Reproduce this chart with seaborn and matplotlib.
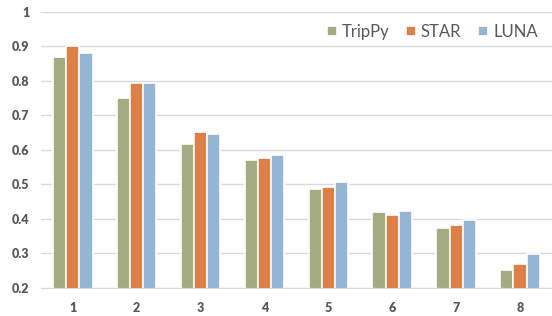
import pandas as pd
import seaborn as sns
import matplotlib.pyplot as plt

groups = ["1", "2", "3", "4", "5", "6", "7", "8"]
models = ["TripPy", "STAR", "LUNA"]
trippy = [0.870, 0.750, 0.618, 0.572, 0.488, 0.421, 0.373, 0.252]
star = [0.901, 0.793, 0.652, 0.578, 0.493, 0.410, 0.381, 0.270]
luna = [0.880, 0.793, 0.647, 0.586, 0.507, 0.424, 0.397, 0.298]
colors = ["#A5AB80", "#E07F45", "#93B6D5"]

rows = []
for name, vals in zip(models, [trippy, star, luna]):
    for g, v in zip(groups, vals):
        rows.append({"group": g, "model": name, "value": v})
df = pd.DataFrame(rows)

sns.set_style("white")
plt.rcParams['font.family'] = ['Lato', 'DejaVu Sans']

fig = plt.figure(figsize=(5.52, 3.16), dpi=100)
ax = fig.add_axes([0.074, 0.089, 0.926, 0.873])

sns.barplot(data=df, x="group", y="value", hue="model", hue_order=models,
            palette=colors, width=0.62, edgecolor="white", linewidth=1.2,
            saturation=1, ax=ax)

ax.set_ylim(0.2, 1.0)
ax.set_yticks([0.2, 0.3, 0.4, 0.5, 0.6, 0.7, 0.8, 0.9, 1.0])
ax.set_yticklabels(["0.2", "0.3", "0.4", "0.5", "0.6", "0.7", "0.8", "0.9", "1"])
ax.set_xlim(-0.5, 7.5)
ax.yaxis.grid(True, color="#D9D9D9", linewidth=1)
ax.set_axisbelow(True)
for s in ["top", "right", "left"]:
    ax.spines[s].set_visible(False)
ax.spines["bottom"].set_color("#D9D9D9")
ax.tick_params(axis="both", length=0, labelsize=9, labelcolor="#595959")
ax.tick_params(axis="x", pad=10)
ax.tick_params(axis="y", pad=8)
for lbl in ax.get_xticklabels() + ax.get_yticklabels():
    lbl.set_fontweight("heavy")
ax.set_xlabel("")
ax.set_ylabel("")

leg = ax.legend(loc="upper right", bbox_to_anchor=(0.995, 1.0), ncol=3, frameon=False,
                fontsize=12, handlelength=0.6, handleheight=0.6, handletextpad=0.3,
                columnspacing=1.0, borderaxespad=0.3)
for t in leg.get_texts():
    t.set_color("#595959")

fig.savefig("out.png", dpi=100)
